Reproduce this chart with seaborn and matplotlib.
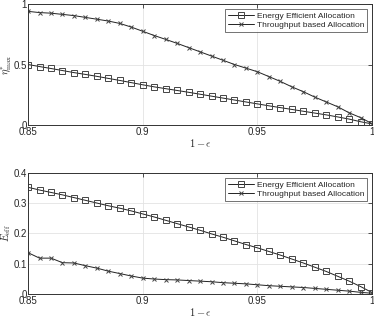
import numpy as np
import matplotlib
matplotlib.use("Agg")
import matplotlib.pyplot as plt
import seaborn as sns

# x axis: 1 - epsilon
one_minus_eps = np.round(np.arange(0.85, 1.0001, 0.005), 3)

# top panel: eta*_max
eta_energy = [0.500, 0.483, 0.467, 0.450, 0.433, 0.418, 0.402, 0.385, 0.368, 0.350,
              0.332, 0.315, 0.300, 0.285, 0.270, 0.254, 0.238, 0.222, 0.206, 0.190,
              0.174, 0.158, 0.143, 0.128, 0.113, 0.098, 0.083, 0.066, 0.048, 0.026,
              0.008]
eta_throughput = [0.940, 0.930, 0.925, 0.915, 0.905, 0.890, 0.875, 0.860, 0.840, 0.810,
                  0.775, 0.740, 0.708, 0.675, 0.640, 0.605, 0.570, 0.535, 0.500, 0.470,
                  0.440, 0.400, 0.360, 0.315, 0.275, 0.230, 0.190, 0.150, 0.100, 0.060,
                  0.010]

# bottom panel: E_eff
eeff_energy = [0.352, 0.343, 0.335, 0.327, 0.318, 0.309, 0.300, 0.291, 0.283, 0.274,
               0.264, 0.254, 0.243, 0.232, 0.221, 0.210, 0.198, 0.187, 0.175, 0.163,
               0.152, 0.140, 0.128, 0.115, 0.102, 0.088, 0.074, 0.058, 0.042, 0.024,
               0.004]
eeff_throughput = [0.136, 0.118, 0.118, 0.103, 0.102, 0.093, 0.085, 0.075, 0.067, 0.059,
                   0.052, 0.049, 0.047, 0.046, 0.044, 0.042, 0.040, 0.037, 0.035, 0.033,
                   0.030, 0.027, 0.025, 0.023, 0.021, 0.018, 0.015, 0.012, 0.009, 0.005,
                   0.002]

labels = ["Energy Efficient Allocation", "Throughput based Allocation"]

sns.set_style("whitegrid")
plt.rcParams['font.family'] = ['Liberation Sans', 'DejaVu Sans']
plt.rcParams['mathtext.fontset'] = 'cm'

fig = plt.figure(figsize=(3.74, 3.17), dpi=100)
ax1 = fig.add_axes([0.075, 0.606, 0.92, 0.381])
ax2 = fig.add_axes([0.075, 0.073, 0.92, 0.382])


def draw(ax, ee, tp, ylim, yticks, yticklabels, ylabel):
    for vals, lab, mk, ms in [(ee, labels[0], "s", 4), (tp, labels[1], "x", 3.5)]:
        sns.lineplot(x=one_minus_eps, y=vals, label=lab, color="#222222",
                     linewidth=0.7, marker=mk, markersize=ms,
                     markerfacecolor="none", markeredgecolor="#444444",
                     markeredgewidth=0.7, ax=ax)
    ax.set_xlim(0.85, 1.0)
    ax.set_ylim(*ylim)
    ax.set_xticks([0.85, 0.9, 0.95, 1.0])
    ax.set_xticklabels(["0.85", "0.9", "0.95", "1"])
    ax.set_yticks(yticks)
    ax.set_yticklabels(yticklabels)
    ax.tick_params(axis="x", pad=1.5)
    ax.tick_params(axis="y", pad=1)
    ax.tick_params(labelsize=7, direction="in", length=3, width=0.6,
                   top=True, right=True, color="#333333")
    ax.grid(True, color="#e3e3e3", linewidth=0.6)
    for s in ax.spines.values():
        s.set_color("#333333")
        s.set_linewidth(0.7)
    ax.set_xlabel(r"$1-\epsilon$", fontsize=7.5, labelpad=0)
    ax.set_ylabel(ylabel, fontsize=7.5)
    ax.yaxis.set_label_coords(-0.044, 0.5)
    leg = ax.legend(loc="upper right", fontsize=6, frameon=True, fancybox=False,
                    handlelength=3.2, borderpad=0.35, labelspacing=0.2,
                    handletextpad=0.3, borderaxespad=0.6)
    leg.get_frame().set_edgecolor("#333333")
    leg.get_frame().set_linewidth(0.6)


draw(ax1, eta_energy, eta_throughput, (0, 1), [0, 0.5, 1], ["0", "0.5", "1"],
     r"$\eta^{*}_{\max}$")
draw(ax2, eeff_energy, eeff_throughput, (0, 0.4), [0, 0.1, 0.2, 0.3, 0.4],
     ["0", "0.1", "0.2", "0.3", "0.4"], r"$E_{\rm eff}$")

fig.savefig("out.png", dpi=100)
